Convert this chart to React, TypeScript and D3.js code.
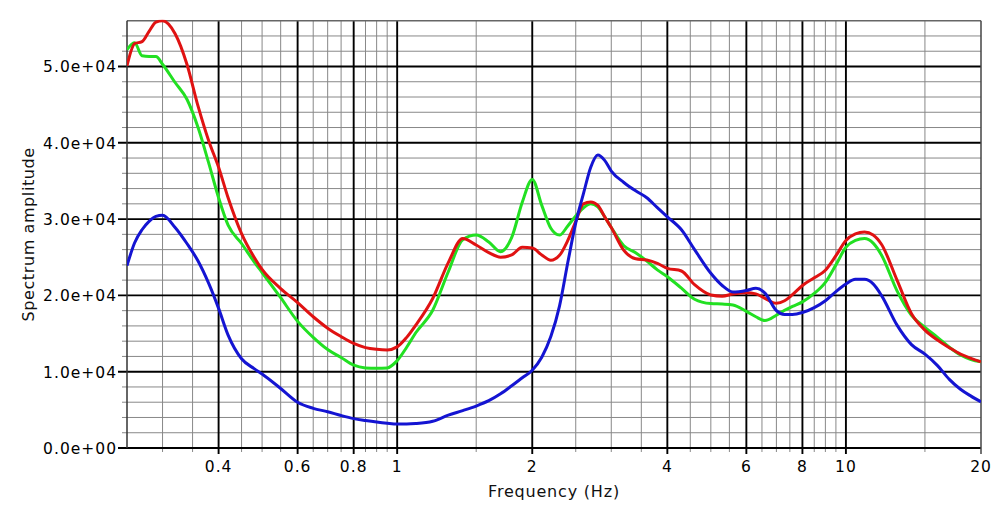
import React from "react";
import * as d3 from "d3";

// frequencies (Hz) at which the three spectra were read
const freqs = [
  0.25, 0.26, 0.27, 0.28, 0.29, 0.3, 0.32, 0.34, 0.36, 0.38, 0.4, 0.42, 0.45, 0.48, 0.5,
  0.55, 0.6, 0.65, 0.7, 0.75, 0.8, 0.85, 0.9, 0.95, 1.0, 1.05, 1.1, 1.2, 1.3, 1.4, 1.5,
  1.6, 1.7, 1.8, 1.9, 2.0, 2.1, 2.2, 2.3, 2.4, 2.5, 2.6, 2.7, 2.8, 2.9, 3.0, 3.2, 3.4,
  3.6, 3.8, 4.0, 4.3, 4.6, 5.0, 5.3, 5.6, 6.0, 6.3, 6.6, 7.0, 7.3, 7.6, 8.0, 8.5, 9.0,
  9.5, 10, 10.5, 11, 11.5, 12, 13, 14, 15, 16, 17, 18, 19, 20,
];

const redValues = [
  50100, 53000, 53250, 54600, 55800, 56000, 54300, 50300, 44800, 40300, 36800, 32800, 28100, 25000, 23400,
  20900, 19050, 17200, 15700, 14600, 13700, 13150, 12930, 12850, 13250, 14500, 16100, 19600, 24300, 27450, 26600,
  25600, 25000, 25300, 26300, 26200, 25300, 24600, 25250, 27200, 29700, 32000, 32250, 31800, 30300, 28900, 25900, 24800,
  24640, 24200, 23550, 23200, 21400, 20050, 19900, 20180, 20350, 20200, 19600, 18960, 19300, 20100, 21300, 22300, 23300,
  25200, 27200, 28050, 28300, 27920, 26700, 22000, 17600, 15450, 14150, 13150, 12300, 11750, 11300,
];

const greenValues = [
  52200, 53100, 51400, 51300, 51300, 50300, 47900, 45700, 42000, 37400, 32800, 29200, 26800, 24400, 23000,
  19700, 16600, 14500, 12900, 11850, 10850, 10500, 10450, 10500, 11450, 13200, 15100, 18050, 23100, 27300, 27900,
  27000, 25730, 27600, 32200, 35200, 31800, 28800, 27900, 29100, 30400, 31450, 32000, 31600, 30300, 28900, 26500, 25600,
  24500, 23350, 22450, 20950, 19500, 18930, 18870, 18750, 17900, 17200, 16700, 17400, 18050, 18550, 19150, 20250, 21700,
  24000, 26300, 27200, 27450, 26850, 25300, 20600, 17400, 15800, 14500, 13200, 12200, 11600, 11300,
];

const blueValues = [
  23900, 26900, 28600, 29700, 30350, 30500, 28900, 26800, 24500, 21600, 18300, 14800, 11700, 10400, 9700,
  7800, 6000, 5200, 4750, 4250, 3850, 3600, 3400, 3250, 3150, 3150, 3200, 3500, 4300, 4900, 5500,
  6200, 7100, 8150, 9200, 10200, 11900, 14600, 18600, 24300, 29500, 33300, 36800, 38400, 37700, 36300, 34800, 33700,
  32800, 31500, 30300, 28600, 26000, 22900, 21300, 20450, 20650, 20930, 20300, 18000, 17500, 17500, 17750, 18400, 19300,
  20500, 21500, 22100, 22100, 21500, 20000, 16100, 13550, 12300, 10800, 9000, 7700, 6800, 6050,
];

const xTickLabels = [0.4, 0.6, 0.8, 1, 2, 4, 6, 8, 10, 20];
const yTickValues = [0, 10000, 20000, 30000, 40000, 50000];

const W = 1002;
const H = 521;
const m = { left: 127, right: 21, top: 20.7, bottom: 73 };

const fmtExp = (v: number) => {
  const [mant, ex] = v.toExponential(1).split("e");
  const sign = ex[0] === "-" ? "-" : "+";
  const digits = ex.replace(/[+-]/, "").padStart(2, "0");
  return `${mant}e${sign}${digits}`;
};

export default function App() {
  const x = d3.scaleLog().domain([0.25, 20]).range([m.left, W - m.right]);
  const y = d3.scaleLinear().domain([0, 56000]).range([H - m.bottom, m.top]);

  // minor grid: every half unit of each decade
  const xMinor: number[] = [];
  [0.1, 1, 10].forEach((b) => {
    d3.range(1, 20).forEach((k) => {
      const v = +((k * b) / 2).toFixed(3);
      if (v > 0.25 && v < 20 && !xMinor.includes(v)) xMinor.push(v);
    });
  });
  const yMinor = d3.range(2000, 56000, 2000);

  const line = (vals: number[]) =>
    d3
      .line<number>()
      .x((_, i) => x(freqs[i]))
      .y((d) => y(d))
      .curve(d3.curveMonotoneX)(vals) || "";

  const x0 = m.left;
  const x1 = W - m.right;
  const y0 = H - m.bottom;
  const y1 = m.top;
  const font = "'DejaVu Sans', sans-serif";

  return (
    <svg
      width={W}
      height={H}
      style={{ position: "absolute", left: 0, top: 0, background: "#fff" }}
      fontFamily={font}
    >
      <defs>
        <clipPath id="plot">
          <rect x={x0} y={y1 - 1} width={x1 - x0} height={y0 - y1 + 1} />
        </clipPath>
      </defs>

      {/* minor grid */}
      {yMinor
        .filter((v) => v % 10000 !== 0)
        .map((v) => (
          <line key={"ym" + v} x1={x0 - 5} x2={x1} y1={y(v)} y2={y(v)} stroke="#888" strokeWidth={1} />
        ))}
      {xMinor
        .filter((v) => !xTickLabels.includes(v))
        .map((v) => (
          <line key={"xm" + v} x1={x(v)} x2={x(v)} y1={y1} y2={y0 + 4} stroke="#888" strokeWidth={1} />
        ))}

      {/* major grid */}
      {yTickValues.map((v) => (
        <line key={"yM" + v} x1={x0 - 9} x2={x1} y1={y(v)} y2={y(v)} stroke="#000" strokeWidth={1.9} />
      ))}
      {xTickLabels
        .filter((v) => v < 20)
        .map((v) => (
          <line key={"xM" + v} x1={x(v)} x2={x(v)} y1={y1} y2={y0 + 6} stroke="#000" strokeWidth={1.9} />
        ))}

      {/* frame */}
      <line x1={x0} x2={x1} y1={y1} y2={y1} stroke="#666" strokeWidth={1.5} />
      <line x1={x1} x2={x1} y1={y1} y2={y0 + 6} stroke="#444" strokeWidth={1.5} />
      <line x1={x0} x2={x0} y1={y1} y2={y0} stroke="#333" strokeWidth={1.5} />

      {/* curves */}
      <g clipPath="url(#plot)" fill="none" strokeWidth={3} strokeLinejoin="round">
        <path d={line(greenValues)} stroke="#22e022" />
        <path d={line(redValues)} stroke="#e01212" />
        <path d={line(blueValues)} stroke="#1414d2" />
      </g>

      {/* tick labels */}
      {yTickValues.map((v) => (
        <text key={"yl" + v} x={117} y={y(v) + 6} textAnchor="end" fontSize={15.5} letterSpacing={1} fill="#000">
          {fmtExp(v)}
        </text>
      ))}
      {xTickLabels.map((v) => (
        <text key={"xl" + v} x={x(v)} y={y0 + 24} textAnchor="middle" fontSize={15.5} letterSpacing={1} fill="#000">
          {v}
        </text>
      ))}

      <text x={(x0 + x1) / 2} y={y0 + 49} textAnchor="middle" fontSize={16} letterSpacing={0.8} fill="#111">
        Frequency (Hz)
      </text>
      <text
        transform={`translate(34, ${(y0 + y1) / 2}) rotate(-90)`}
        textAnchor="middle"
        fontSize={16}
        letterSpacing={0.6}
        fill="#111"
      >
        Spectrum amplitude
      </text>
    </svg>
  );
}
